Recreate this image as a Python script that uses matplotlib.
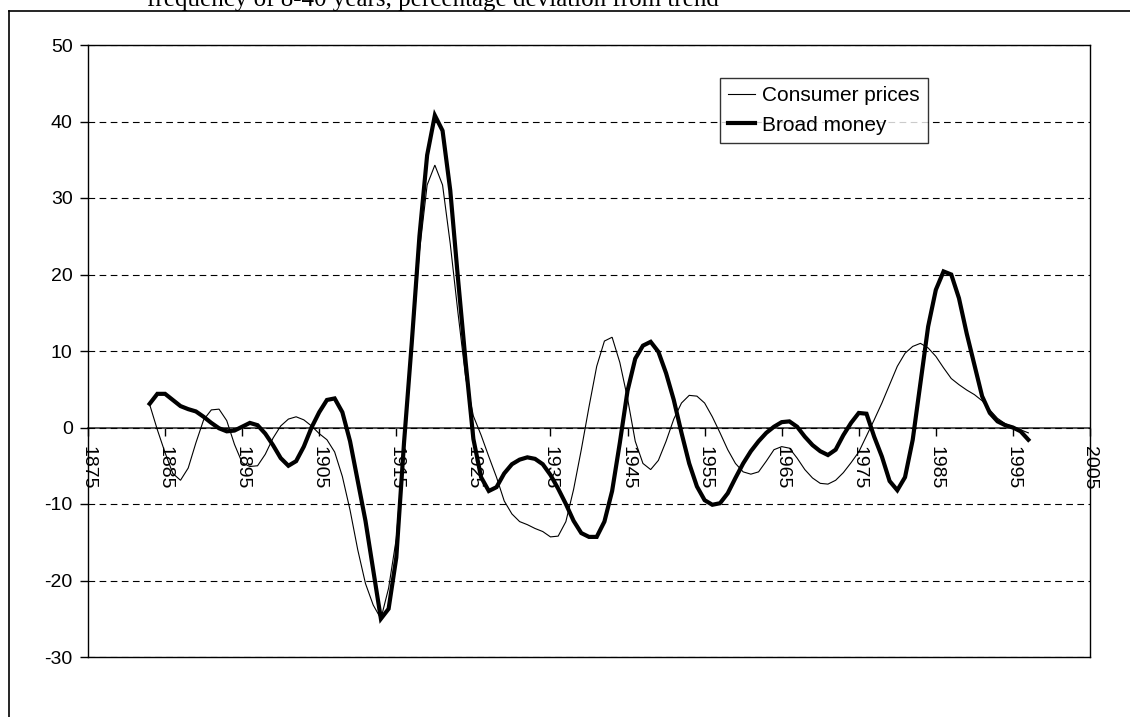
import matplotlib
matplotlib.use("Agg")
import matplotlib.pyplot as plt
from matplotlib.lines import Line2D
import numpy as np

plt.rcParams["axes.unicode_minus"] = False

years = list(range(1883, 1998))

consumer_prices = [
    3.0, -0.3, -3.3, -6.0, -6.9, -5.3, -2.0, 1.0, 2.3, 2.4,          # 1883-1892
    0.9, -2.2, -4.6, -5.1, -5.0, -3.5, -1.4, 0.2, 1.1, 1.4,          # 1893-1902
    1.0, 0.2, -0.8, -1.6, -3.2, -6.4, -10.8, -16.0, -20.4, -23.2,    # 1903-1912
    -25.0, -21.0, -14.5, -2.0, 10.0, 23.0, 31.7, 34.3, 31.7, 24.0,   # 1913-1922
    15.0, 6.5, 1.5, -1.0, -3.8, -6.5, -9.6, -11.3, -12.3, -12.7,     # 1923-1932
    -13.2, -13.6, -14.3, -14.2, -12.3, -8.1, -2.9, 2.7, 8.0, 11.3,   # 1933-1942
    11.8, 8.5, 3.8, -1.8, -4.7, -5.5, -4.3, -1.8, 1.1, 3.2,          # 1943-1952
    4.2, 4.1, 3.2, 1.4, -0.7, -2.9, -4.7, -5.8, -6.1, -5.8,          # 1953-1962
    -4.4, -2.9, -2.5, -2.7, -4.0, -5.5, -6.6, -7.3, -7.4, -6.9,      # 1963-1972
    -5.9, -4.6, -3.2, -1.1, 1.0, 3.2, 5.6, 8.0, 9.7, 10.6,           # 1973-1982
    11.0, 10.4, 9.3, 7.8, 6.4, 5.6, 4.9, 4.3, 3.5, 2.3,              # 1983-1992
    1.2, 0.5, 0.1, -0.3, -0.7,                                       # 1993-1997
]

broad_money = [
    3.1, 4.4, 4.4, 3.6, 2.8, 2.4, 2.1, 1.4, 0.6, -0.1,               # 1883-1892
    -0.5, -0.4, 0.1, 0.6, 0.3, -0.8, -2.3, -4.0, -5.0, -4.4,         # 1893-1902
    -2.5, 0.0, 2.0, 3.6, 3.8, 2.0, -1.8, -7.0, -12.2, -18.6,         # 1903-1912
    -25.0, -23.7, -17.0, -2.0, 11.0, 25.0, 35.6, 40.8, 38.8, 31.0,   # 1913-1922
    19.5, 8.5, -1.5, -6.5, -8.3, -7.8, -6.0, -4.8, -4.2, -3.9,       # 1923-1932
    -4.1, -4.8, -6.2, -8.0, -10.0, -12.2, -13.8, -14.3, -14.3, -12.3,  # 1933-1942
    -8.3, -2.0, 4.8, 9.0, 10.7, 11.2, 9.9, 7.1, 3.6, -0.7,           # 1943-1952
    -4.7, -7.7, -9.5, -10.1, -9.9, -8.6, -6.6, -4.7, -3.1, -1.8,     # 1953-1962
    -0.7, 0.1, 0.7, 0.8, 0.1, -1.2, -2.3, -3.1, -3.6, -2.9,          # 1963-1972
    -1.0, 0.6, 1.9, 1.8, -1.2, -3.8, -7.0, -8.2, -6.5, -1.6,         # 1973-1982
    5.8, 13.2, 18.0, 20.4, 20.0, 16.9, 12.3, 8.2, 4.1, 1.9,          # 1983-1992
    0.8, 0.3, 0.0, -0.5, -1.6,                                       # 1993-1997
]

x_ticks = list(range(1875, 2006, 10))
x_tick_labels = [str(t) for t in x_ticks]
y_ticks = list(range(-30, 51, 10))
series_labels = ["Consumer prices", "Broad money"]
title_text = "frequency of 8-40 years, percentage deviation from trend"

W, H = 1130, 717
fig = plt.figure(figsize=(W / 100, H / 100), dpi=100)
fig.patch.set_facecolor("white")

ax = fig.add_axes([88 / W, (H - 657) / H, (1090 - 88) / W, (657 - 45) / H])
ax.set_xlim(1875, 2005)
ax.set_ylim(-30, 50)

ax.plot(years, consumer_prices, color="black", lw=0.8, solid_joinstyle="miter")
ax.plot(years, broad_money, color="black", lw=3.0, solid_joinstyle="miter")

# gridlines
ax.set_yticks(y_ticks)
ax.yaxis.grid(True, linestyle=(0, (6, 4)), color="black", lw=0.8)
ax.set_axisbelow(True)

for s in ax.spines.values():
    s.set_color("black")
    s.set_linewidth(1.0)

ax.tick_params(axis="y", direction="out", length=6, width=1, labelsize=14,
               pad=5, right=False)
ax.set_xticks([])
for lbl in ax.get_yticklabels():
    lbl.set_fontfamily("Liberation Sans")

# category axis at y=0
sec = ax.secondary_xaxis(30 / 80)
sec.set_xticks(x_ticks)
sec.set_xticklabels(x_tick_labels, rotation=-90, fontsize=14,
                    fontfamily="Liberation Sans")
sec.tick_params(axis="x", direction="out", length=6, width=1, pad=7.5)
sec.spines["bottom"].set_color("#333333")
sec.spines["bottom"].set_linewidth(1.2)

handles = [Line2D([], [], color="black", lw=0.8),
           Line2D([], [], color="black", lw=3.0)]
leg = ax.legend(handles, series_labels, loc="upper left",
                bbox_to_anchor=((720 - 88) / 1002, (657 - 78) / 612),
                frameon=True, fancybox=False, shadow=False,
                prop={"family": "Liberation Sans", "size": 15},
                handlelength=1.3, handletextpad=0.3, borderpad=0.4,
                labelspacing=0.5, borderaxespad=0)
leg.get_frame().set_edgecolor("black")
leg.get_frame().set_linewidth(1.0)

# chart-area border (partially cropped)
fig.add_artist(Line2D([8.5 / W, 8.5 / W], [0, (H - 11) / H], color="black",
                      lw=1.2, transform=fig.transFigure))
fig.add_artist(Line2D([8.5 / W, 1], [(H - 11) / H, (H - 11) / H], color="black",
                      lw=1.2, transform=fig.transFigure))

# partially visible title
fig.text(433 / W, (H - 6) / H, title_text, ha="center", va="baseline",
         fontsize=18, fontfamily="Liberation Serif")

fig.savefig("out.png", dpi=100)
